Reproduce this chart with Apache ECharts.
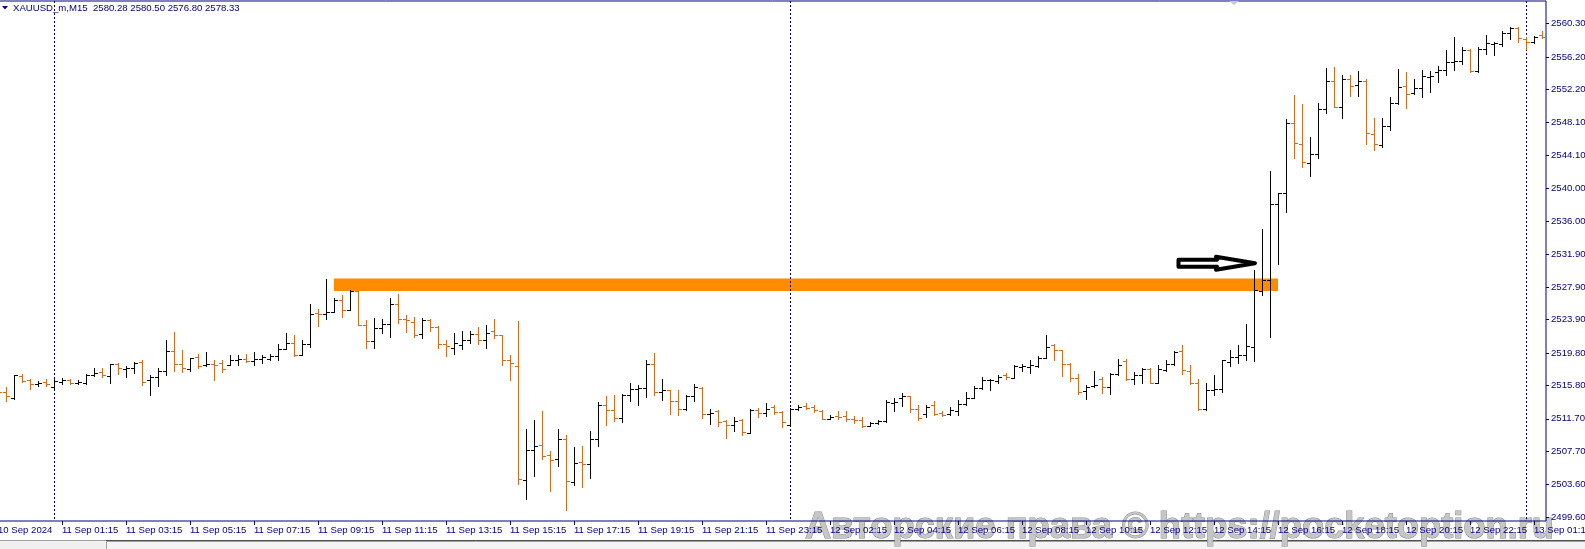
<!DOCTYPE html>
<html><head><meta charset="utf-8">
<script src="https://cdn.jsdelivr.net/npm/echarts@6.0.0/dist/echarts.min.js"></script>
<style>html,body{margin:0;padding:0;background:#fff;overflow:hidden}#c{width:1585px;height:549px}</style>
</head><body><div id="c"></div><script>
// ---- time categories (M15 bars, market closed 00:00-01:00 server time) ----
const sessions = [
  ['10 Sep', 22*60+15, 23*60+45],
  ['11 Sep', 60, 23*60+45],
  ['12 Sep', 60, 23*60+45],
  ['13 Sep', 60, 90]
];
const categories = [];
for (const [d, a, b] of sessions) {
  for (let m = a; m <= b; m += 15) {
    categories.push(d + ' ' + String(Math.floor(m / 60)).padStart(2, '0') + ':' + String(m % 60).padStart(2, '0'));
  }
}
const firstLabel = '10 Sep 2024';
const headerText = 'XAUUSD_m,M15  2580.28 2580.50 2576.80 2578.33';
const watermarkText = 'Авторские права © https://pocketoption.ru';

// ---- price axis tick labels ----
const yTicks = [2499.6, 2503.6, 2507.7, 2511.7, 2515.8, 2519.8, 2523.9, 2527.9,
                2531.9, 2536.0, 2540.0, 2544.1, 2548.1, 2552.2, 2556.2, 2560.3];

// ---- OHLC values ----
const openV = [
2515.20,2514.98,2514.24,2516.95,2516.42,2516.01,2516.21,2515.60,2516.21,2516.42,2516.13,2516.09,2517.12,2517.45,2516.95,2518.39,2517.86,2517.94,2518.68,2516.42,
2516.83,2517.53,2520.03,2518.47,2517.86,2519.29,2518.27,2518.43,2518.59,2518.35,2518.96,2519.09,2518.80,2519.09,2519.09,2519.37,2520.32,2521.02,2519.58,2520.93,
2524.71,2524.63,2524.83,2526.35,2525.12,2527.38,2523.27,2521.22,2522.90,2523.31,2525.86,2524.01,2523.60,2522.16,2523.81,2522.98,2520.85,2520.44,2520.81,2521.43,
2522.17,2521.35,2522.46,2521.96,2518.97,2518.15,2504.20,2507.89,2508.50,2507.27,2506.78,2509.24,2503.91,2506.37,2506.16,2509.16,2513.35,2512.73,2511.83,2514.58,
2515.32,2515.52,2518.48,2514.99,2515.19,2513.88,2512.85,2514.46,2515.52,2512.32,2512.61,2511.38,2510.97,2511.50,2509.98,2512.82,2512.41,2513.14,2512.53,2510.97,
2512.86,2513.23,2513.14,2512.65,2511.71,2511.99,2511.99,2511.71,2511.58,2510.80,2511.17,2511.38,2513.68,2514.29,2514.46,2512.94,2512.32,2513.34,2512.40,2512.32,
2512.60,2513.55,2514.29,2515.52,2516.42,2516.30,2517.12,2516.75,2518.06,2518.06,2518.18,2519.21,2520.73,2520.11,2518.39,2516.71,2515.07,2515.72,2516.62,2515.60,
2517.16,2518.76,2516.54,2517.03,2517.86,2516.14,2517.74,2518.48,2520.00,2517.58,2516.14,2512.94,2515.28,2515.40,2518.68,2519.30,2519.59,2520.53,2527.38,2528.82,
2538.05,2539.41,2548.11,2545.48,2543.10,2544.21,2549.75,2553.24,2550.08,2553.44,2552.75,2553.28,2546.71,2545.36,2547.70,2550.49,2552.62,2551.72,2552.34,2553.77,
2554.31,2554.59,2555.62,2555.70,2557.06,2554.51,2557.14,2557.79,2557.75,2559.11,2559.72,2558.41,2558.00,2558.90];
const highV = [
2515.50,2515.56,2517.12,2517.20,2516.62,2516.34,2516.62,2516.62,2516.75,2516.62,2516.42,2517.16,2517.94,2517.94,2518.47,2518.59,2518.18,2518.68,2518.88,2517.03,
2517.94,2521.43,2522.37,2520.11,2519.21,2519.70,2519.91,2518.88,2518.96,2519.58,2519.50,2519.70,2519.91,2519.50,2519.70,2520.85,2522.25,2521.96,2521.34,2525.86,
2525.24,2528.85,2526.60,2526.88,2527.50,2527.46,2523.81,2524.13,2524.01,2526.60,2527.01,2524.42,2524.21,2524.13,2524.01,2523.07,2521.34,2522.29,2522.46,2522.50,
2522.99,2523.19,2523.93,2522.04,2519.50,2523.69,2510.47,2511.50,2512.65,2507.68,2510.39,2509.65,2508.22,2508.30,2510.19,2513.76,2514.45,2514.58,2514.70,2516.10,
2515.81,2518.89,2519.79,2516.55,2515.27,2515.19,2514.66,2516.02,2515.61,2512.94,2512.73,2511.50,2511.91,2511.63,2512.94,2513.02,2513.64,2513.35,2512.61,2513.02,
2513.35,2513.64,2513.35,2512.73,2512.12,2512.61,2512.61,2512.04,2511.91,2511.30,2511.50,2513.96,2514.29,2514.91,2514.50,2513.43,2513.34,2513.83,2512.60,2513.14,
2513.96,2514.98,2515.72,2516.83,2516.62,2517.03,2517.36,2518.27,2518.39,2518.88,2519.37,2521.96,2520.93,2520.19,2518.55,2517.24,2515.80,2517.53,2516.83,2517.32,
2519.00,2519.00,2517.45,2517.98,2517.99,2518.27,2518.89,2520.00,2520.74,2518.27,2516.63,2516.10,2517.04,2518.97,2520.12,2520.82,2523.32,2529.97,2535.02,2542.20,
2539.49,2548.52,2551.51,2550.40,2546.38,2550.49,2554.79,2555.00,2553.98,2553.98,2554.47,2553.48,2548.73,2548.64,2551.23,2554.72,2554.39,2553.48,2554.59,2554.47,
2555.09,2557.06,2558.70,2557.47,2557.18,2557.38,2558.90,2558.08,2559.44,2559.93,2559.85,2558.70,2558.78,2559.39];
const lowV = [
2514.70,2513.83,2514.16,2516.21,2515.39,2515.72,2515.68,2515.39,2516.01,2516.01,2516.01,2516.01,2516.95,2516.87,2516.13,2517.24,2516.83,2517.36,2515.89,2514.65,
2515.72,2517.12,2517.61,2517.45,2517.53,2517.94,2518.18,2516.50,2517.45,2518.31,2518.35,2518.68,2518.35,2518.59,2518.96,2518.96,2520.28,2519.41,2519.54,2520.52,
2523.11,2524.01,2524.79,2524.21,2525.04,2523.19,2520.40,2520.40,2522.29,2521.75,2523.48,2522.37,2521.75,2521.63,2522.49,2520.40,2519.41,2519.70,2520.32,2521.02,
2520.94,2520.44,2521.68,2518.35,2516.51,2503.70,2501.86,2504.65,2506.70,2502.80,2505.88,2500.54,2503.50,2503.29,2504.40,2508.34,2510.97,2511.42,2511.29,2513.84,
2513.43,2514.37,2514.66,2514.04,2512.32,2512.11,2512.73,2513.88,2511.79,2511.09,2510.80,2509.33,2510.19,2509.66,2509.94,2511.91,2512.04,2512.32,2510.68,2510.89,
2512.73,2512.94,2512.53,2511.63,2511.63,2511.71,2511.38,2511.17,2510.68,2510.76,2511.01,2511.30,2512.65,2513.27,2512.53,2511.50,2511.91,2512.19,2512.03,2512.11,
2512.19,2513.34,2514.24,2515.39,2515.27,2516.13,2516.62,2516.71,2517.53,2517.36,2518.06,2519.17,2518.96,2516.95,2516.34,2514.78,2514.16,2515.60,2514.86,2514.78,
2517.03,2516.50,2516.01,2516.13,2516.10,2516.10,2517.58,2518.36,2517.25,2515.93,2512.82,2512.73,2514.58,2514.99,2518.15,2518.56,2518.89,2518.81,2526.97,2521.76,
2530.79,2537.15,2543.72,2542.69,2541.58,2543.72,2549.26,2550.00,2548.64,2551.43,2551.43,2545.44,2544.75,2545.16,2547.21,2550.41,2549.87,2551.60,2551.23,2551.84,
2553.08,2553.98,2554.59,2555.29,2554.39,2554.39,2556.52,2556.44,2557.55,2558.37,2558.08,2557.14,2557.88,2558.57];
const closeV = [
2514.98,2514.45,2517.03,2516.38,2516.01,2516.13,2516.01,2516.30,2516.42,2516.13,2516.25,2517.12,2517.28,2517.03,2518.39,2517.94,2517.98,2518.55,2516.21,2516.83,
2517.61,2520.03,2518.47,2517.94,2519.17,2518.18,2518.39,2518.35,2517.86,2518.96,2519.05,2518.76,2519.09,2519.29,2519.37,2520.32,2521.02,2519.58,2520.93,2524.63,
2524.59,2524.83,2526.35,2525.12,2527.42,2523.27,2521.22,2522.90,2523.31,2525.86,2524.01,2523.81,2522.04,2523.81,2522.98,2520.85,2520.60,2521.02,2521.43,2522.09,
2521.35,2522.25,2521.96,2518.97,2518.60,2504.32,2507.89,2508.34,2507.11,2506.58,2509.24,2503.99,2506.29,2506.16,2509.16,2513.35,2512.73,2511.83,2514.58,2515.32,
2515.52,2518.39,2514.95,2515.19,2513.88,2512.85,2514.45,2515.61,2512.32,2512.45,2511.30,2510.97,2511.38,2510.07,2512.73,2512.41,2512.94,2512.53,2511.30,2512.86,
2513.14,2513.06,2512.73,2511.71,2511.91,2511.91,2511.63,2511.50,2510.80,2511.21,2511.38,2513.76,2513.76,2514.46,2512.86,2511.79,2513.14,2512.32,2512.19,2512.73,
2513.55,2514.29,2515.52,2516.42,2516.50,2516.83,2516.83,2518.18,2518.18,2518.27,2519.21,2520.52,2520.11,2518.39,2516.75,2514.98,2515.60,2515.89,2515.60,2517.16,
2518.35,2516.54,2517.03,2517.86,2516.14,2517.86,2518.48,2519.92,2517.66,2516.14,2512.94,2515.28,2515.40,2518.89,2519.30,2519.59,2520.65,2527.51,2528.82,2538.05,
2539.41,2548.11,2545.56,2543.22,2544.21,2549.75,2553.24,2550.08,2553.49,2552.62,2553.24,2546.80,2545.48,2547.70,2550.49,2552.46,2551.60,2552.34,2553.85,2553.85,
2554.59,2555.62,2555.70,2557.06,2554.51,2557.14,2557.88,2557.88,2559.11,2559.72,2558.49,2558.00,2558.70,2558.70];

// ---- annotations (in data units) ----
const daySeparators = [7, 99, 191];            // first bar of each trading day
const levelBand = [42, 160, 2528.94, 2527.42]; // from bar, to bar, upper price, lower price
const arrowTip = [157, 2530.83];                // bar index, price

const NAVY = '#000080';
const UP = '#000000', DOWN = '#DA691E', BAND = '#FF8C00';

const ohlcData = openV.map((o, i) => [i, o, highV[i], lowV[i], closeV[i]]);

function renderBar(params, api) {
  const i = api.value(0);
  const o = api.value(1), h = api.value(2), l = api.value(3), c = api.value(4);
  const cx = Math.round(api.coord([i, o])[0]);
  const yO = Math.round(api.coord([i, o])[1]) + 0.5;
  const yH = Math.round(api.coord([i, h])[1]);
  const yL = Math.round(api.coord([i, l])[1]) + 1;
  const yC = Math.round(api.coord([i, c])[1]) + 0.5;
  const col = c >= o ? UP : DOWN;
  const st = { stroke: col, lineWidth: 1 };
  return { type: 'group', children: [
    { type: 'line', shape: { x1: cx + 0.5, y1: yH, x2: cx + 0.5, y2: yL }, style: st },
    { type: 'line', shape: { x1: cx - 3, y1: yO, x2: cx, y2: yO }, style: st },
    { type: 'line', shape: { x1: cx + 1, y1: yC, x2: cx + 4, y2: yC }, style: st }
  ]};
}
function renderSep(params, api) {
  const x = Math.round(api.coord([api.value(0), yTicks[0]])[0]) + 0.5;
  const cs = params.coordSys;
  return { type: 'line', shape: { x1: x, y1: cs.y, x2: x, y2: cs.y + cs.height },
           style: { stroke: NAVY, lineWidth: 1, lineDash: [2, 2] } };
}
function renderBand(params, api) {
  const p1 = api.coord([api.value(0), api.value(2)]);
  const p2 = api.coord([api.value(1), api.value(3)]);
  return { type: 'rect', shape: { x: p1[0], y: p1[1], width: p2[0] - p1[0], height: p2[1] - p1[1] },
           style: { fill: BAND } };
}

const chart = echarts.init(document.getElementById('c'), null, { renderer: 'canvas' });
const axFont = { fontFamily: 'Liberation Sans, Arial, sans-serif', fontSize: 9.6, color: NAVY };
const showIdx = (idx) => idx % 8 === 0;

chart.setOption({
  animation: false,
  backgroundColor: '#ffffff',
  grid: { left: -6, right: 39, top: 1, bottom: 28, outerBoundsMode: 'none', containLabel: false,
          show: true, borderColor: NAVY, borderWidth: 1, backgroundColor: 'transparent' },
  xAxis: {
    type: 'category', data: categories, boundaryGap: true,
    axisLine: { show: false },
    axisTick: { show: true, interval: showIdx, alignWithLabel: true, length: 4, lineStyle: { color: NAVY } },
    axisLabel: Object.assign({ interval: showIdx, align: 'left', margin: 4, hideOverlap: false,
      formatter: (v, idx) => idx === 0 ? firstLabel : v }, axFont),
    splitLine: { show: false }
  },
  yAxis: {
    type: 'value', position: 'right', min: 2499.13, max: 2563.07, scale: true,
    axisLine: { show: false },
    splitLine: { show: false },
    axisTick: { show: true, length: 3, customValues: yTicks, lineStyle: { color: NAVY } },
    axisLabel: Object.assign({ customValues: yTicks, margin: 5, formatter: v => v.toFixed(2) }, axFont)
  },
  series: [
    { type: 'custom', name: 'level', z: 1, clip: true, renderItem: renderBand,
      data: [levelBand], encode: { x: [0, 1], y: [2, 3] }, silent: true },
    { type: 'custom', name: 'sep', z: 2, clip: true, renderItem: renderSep,
      data: daySeparators.map(d => [d]), encode: { x: 0 }, silent: true },
    { type: 'custom', name: 'XAUUSD', z: 3, clip: true, renderItem: renderBar,
      data: ohlcData, encode: { x: 0, y: [1, 2, 3, 4] } }
  ]
});

const tip = chart.convertToPixel({ gridIndex: 0 }, arrowTip);
const tx = tip[0] + 1, ty = tip[1];
chart.setOption({
  graphic: [
    { type: 'polygon', z: 50, shape: { points: [
        [tx - 76.5, ty - 3.5], [tx - 38, ty - 3.5], [tx - 39, ty - 6.5], [tx, ty],
        [tx - 39, ty + 6.5], [tx - 38, ty + 3.5], [tx - 76.5, ty + 3.5]] },
      style: { fill: '#ffffff', stroke: '#000000', lineWidth: 4, lineJoin: 'round' } },
    { type: 'polygon', z: 50, shape: { points: [[2, 6], [8, 6], [5, 9.5]] }, style: { fill: NAVY } },
    { type: 'text', z: 50, left: 13, top: 3, style: { text: headerText, fill: NAVY, font: '9.6px "Liberation Sans", Arial, sans-serif' } },
    { type: 'polygon', z: 50, shape: { points: [[1229, 1], [1239, 1], [1234, 5]] }, style: { fill: '#c8c8d0' } },
    { type: 'rect', z: -5, shape: { x: 0, y: 541, width: 1585, height: 8 }, style: { fill: '#f0f0f0' } },
    { type: 'line', z: -4, shape: { x1: 0, y1: 540.5, x2: 106, y2: 540.5 }, style: { stroke: '#a0a0a0', lineWidth: 1 } },
    { type: 'line', z: -4, shape: { x1: 106, y1: 540.5, x2: 1585, y2: 540.5 }, style: { stroke: '#505050', lineWidth: 1 } },
    { type: 'rect', z: -4, shape: { x: 106.5, y: 541.5, width: 1480, height: 9 }, style: { fill: '#f4f4f4', stroke: '#a0a0a0', lineWidth: 1 } },
    { type: 'text', z: -1, x: 805, y: 528, style: { text: watermarkText, fill: '#c6c6c6', stroke: '#8c8c8c', lineWidth: 1,
        font: 'bold 36.3px "Liberation Sans", Arial, sans-serif', verticalAlign: 'middle', align: 'left' } }
  ]
});
</script></body></html>
